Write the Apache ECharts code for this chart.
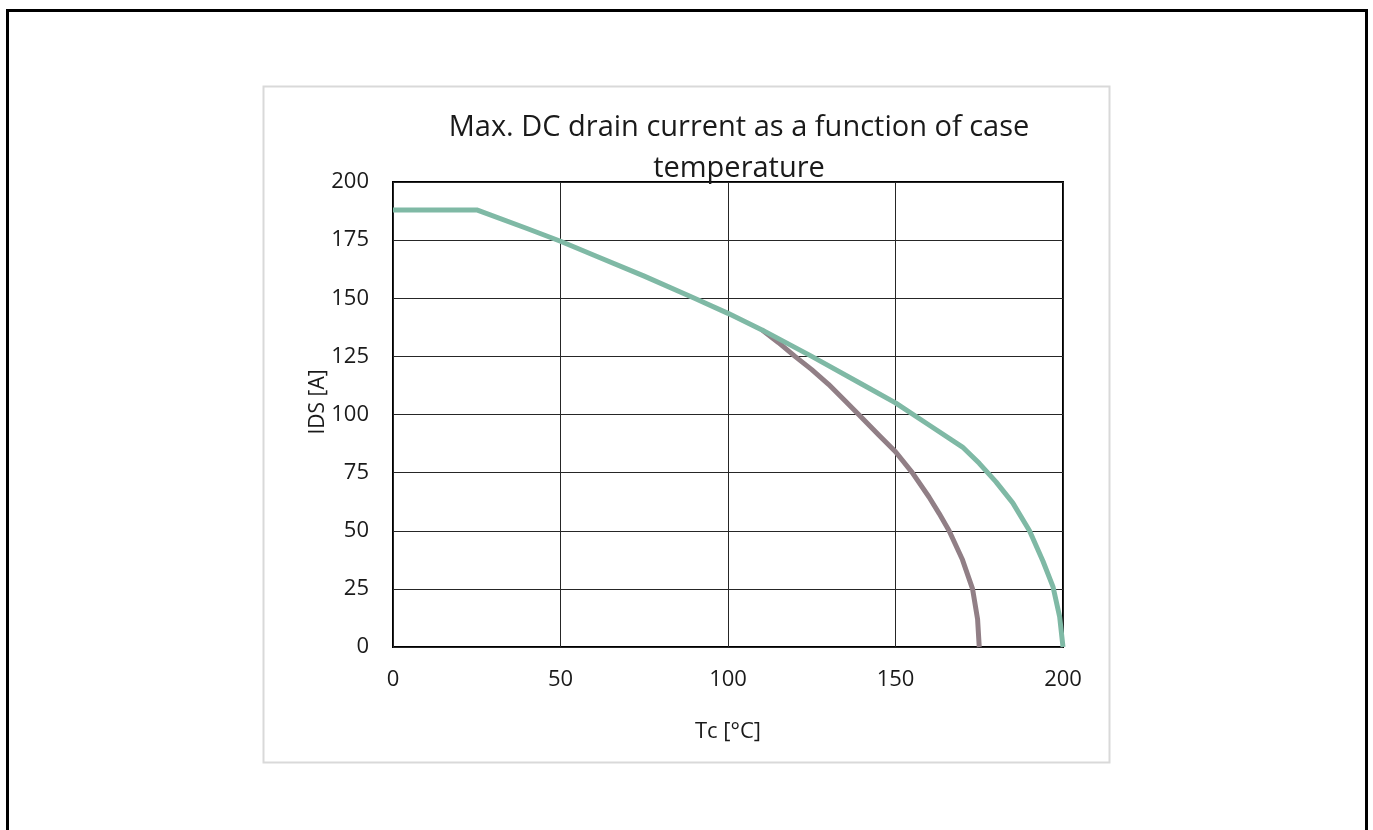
<!DOCTYPE html>
<html>
<head>
<meta charset="utf-8">
<script src="https://cdn.jsdelivr.net/npm/echarts@6/dist/echarts.min.js"></script>
<style>
html,body{margin:0;padding:0;background:#fff;}
#chart{width:1373px;height:830px;}
</style>
</head>
<body>
<div id="chart"></div>
<script>
// Tc [°C] / IDS [A] readings
const greenTemps = [0, 25, 40, 50, 60, 75, 90, 100, 110, 125, 140, 150, 160, 170, 175, 180, 185, 190, 194, 197, 199, 200];
const greenCurrents = [188, 188, 180, 174.5, 168.5, 159.5, 150, 143.5, 136.5, 125, 113, 105, 95.5, 86, 79, 71, 62, 50, 37, 26, 13, 0];
const brownTemps = [110, 115, 120, 125, 130, 135, 139, 145, 150, 155, 160, 163, 166, 170, 173, 174.5, 175];
const brownCurrents = [136.5, 131, 125, 119.3, 113, 105.8, 100, 91.2, 84, 75, 64.5, 57.5, 50, 37.5, 25, 12, 0];
const xTicks = [0, 50, 100, 150, 200];
const yTicks = [0, 25, 50, 75, 100, 125, 150, 175, 200];
const titleText = 'Max. DC drain current as a function of case\ntemperature';
const xName = 'Tc [°C]';
const yName = 'IDS [A]';

const pairs = (xs, ys) => xs.map((x, i) => [x, ys[i]]);
const FONT = '"Open Sans", "Noto Sans", sans-serif';

const chart = echarts.init(document.getElementById('chart'));
chart.setOption({
  animation: false,
  backgroundColor: '#ffffff',
  title: {
    text: titleText,
    left: 734,
    top: 102,
    textAlign: 'center',
    textStyle: { fontFamily: FONT, fontSize: 29, fontWeight: 'normal', color: '#1a1a1a', lineHeight: 41 }
  },
  graphic: [
    { type: 'rect', shape: { x: 7.5, y: 10.5, width: 1359, height: 840 }, style: { fill: 'none', stroke: '#000', lineWidth: 3 }, z: 0 },
    { type: 'rect', shape: { x: 263.5, y: 86.5, width: 846, height: 676 }, style: { fill: 'none', stroke: '#d9d9d9', lineWidth: 2 }, z: 0 },
    { type: 'text', x: 318, y: 402, rotation: Math.PI / 2,
      style: { text: yName, fontFamily: FONT, fontSize: 21, fill: '#1a1a1a', align: 'center', verticalAlign: 'middle' } }
  ],
  grid: {
    left: 393, right: 310, top: 182, bottom: 183,
    show: true, borderColor: '#000', borderWidth: 2, backgroundColor: 'transparent'
  },
  xAxis: {
    type: 'value', min: 0, max: 200, interval: 50,
    name: xName, nameLocation: 'middle', nameGap: 74,
    nameTextStyle: { fontFamily: FONT, fontSize: 22, color: '#1a1a1a' },
    axisLine: { show: false }, axisTick: { show: false },
    axisLabel: { fontFamily: FONT, fontSize: 22, color: '#1a1a1a', margin: 22,
      formatter: v => xTicks.includes(v) ? String(v) : '' },
    splitLine: { show: true, lineStyle: { color: '#262626', width: 1 } }
  },
  yAxis: {
    type: 'value', min: 0, max: 200, interval: 25,
    axisLine: { show: false }, axisTick: { show: false },
    axisLabel: { fontFamily: FONT, fontSize: 22, color: '#1a1a1a', margin: 24,
      formatter: v => yTicks.includes(v) ? String(v) : '' },
    splitLine: { show: true, lineStyle: { color: '#262626', width: 1 } }
  },
  series: [
    {
      type: 'line', data: pairs(brownTemps, brownCurrents), showSymbol: false, smooth: false,
      lineStyle: { color: '#917f86', width: 5, cap: 'butt', join: 'round' }, z: 3
    },
    {
      type: 'line', data: pairs(greenTemps, greenCurrents), showSymbol: false, smooth: false,
      lineStyle: { color: '#7fb9a5', width: 5, cap: 'butt', join: 'round' }, z: 4
    }
  ]
});
</script>
</body>
</html>
